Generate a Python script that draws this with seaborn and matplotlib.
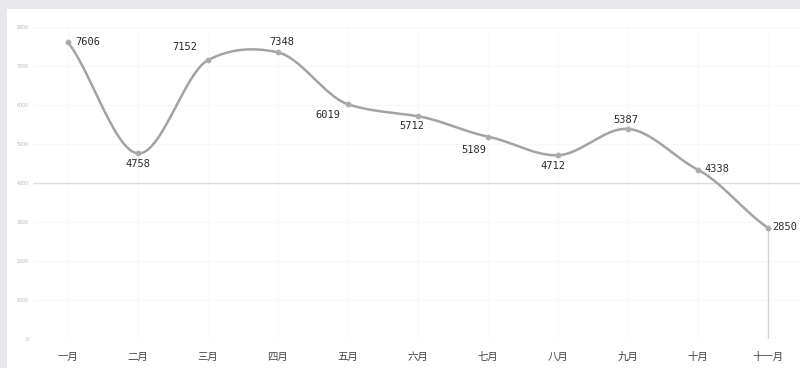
import numpy as np
import pandas as pd
import matplotlib
matplotlib.use("Agg")
import matplotlib.pyplot as plt
import seaborn as sns

months = ["一月", "二月", "三月", "四月", "五月", "六月", "七月", "八月", "九月", "十月", "十一月"]
values = [7606, 4758, 7152, 7348, 6019, 5712, 5189, 4712, 5387, 4338, 2850]
y_ticks = [0, 1000, 2000, 3000, 4000, 5000, 6000, 7000, 8000]
label_offsets = [(7, 0, "left"), (0, -11, "center"), (-23, 13, "center"), (4, 10, "center"),
                 (-20, -11, "center"), (-6, -10, "center"), (-14, -13, "center"), (-5, -11, "center"),
                 (-2, 9, "center"), (6, 1, "left"), (4, 1, "left")]

sns.set_theme(style="white")
plt.rcParams["font.family"] = ["Noto Sans CJK SC", "DejaVu Sans"]

fig = plt.figure(figsize=(8, 3.68), dpi=100)
fig.patch.set_facecolor("#e8e8ec")
# white panel
panel = fig.add_axes([7 / 800, 0, 1 - 7 / 800, (368 - 9) / 368])
panel.set_facecolor("white")
panel.set_xticks([]); panel.set_yticks([])
for s in panel.spines.values():
    s.set_visible(False)

ax = fig.add_axes([33 / 800, (368 - 339) / 368, (800 - 33) / 800, 312 / 368])
ax.set_facecolor("none")

x = np.arange(len(values))
y = np.array(values, dtype=float)

# cardinal-spline smoothing for the line (drawn through the data points)
tension = 0.36
n = len(x)
tang = np.zeros(n)
for i in range(n):
    if 0 < i < n - 1:
        tang[i] = tension * (y[i + 1] - y[i - 1])
    elif i == 0:
        tang[i] = 0.8 * (y[1] - y[0])
    else:
        tang[i] = 0.8 * (y[-1] - y[-2])
fx, fy = [], []
for i in range(n - 1):
    t = np.linspace(0, 1, 30)
    h00 = 2 * t**3 - 3 * t**2 + 1
    h10 = t**3 - 2 * t**2 + t
    h01 = -2 * t**3 + 3 * t**2
    h11 = t**3 - t**2
    seg_y = h00 * y[i] + h10 * tang[i] + h01 * y[i + 1] + h11 * tang[i + 1]
    seg_x = x[i] + t
    if i < n - 2:
        seg_x, seg_y = seg_x[:-1], seg_y[:-1]
    fx.append(seg_x); fy.append(seg_y)
df_line = pd.DataFrame({"x": np.concatenate(fx), "y": np.concatenate(fy)})
df_pts = pd.DataFrame({"x": x, "y": y})

# faint grid
for v in y_ticks:
    ax.axhline(v, color="#f7f7f7", lw=0.8, zorder=0)
for xi in x:
    ax.axvline(xi, color="#f9f9f9", lw=0.8, zorder=0)
ax.axhline(4000, color="#dedede", lw=1.0, zorder=1)
ax.vlines(x[-1], 0, y[-1], color="#d4d4d4", lw=1.0, zorder=1)

sns.lineplot(data=df_line, x="x", y="y", sort=False, estimator=None, ax=ax,
             color="#a3a3a3", lw=1.8, zorder=3)
sns.scatterplot(data=df_pts, x="x", y="y", ax=ax, color="#a8a8a8", s=14,
                edgecolor="#b8b8b8", linewidth=0.5, zorder=4)

for xi, v, (dx, dy, ha) in zip(x, values, label_offsets):
    ax.annotate(str(v), (xi, v), xytext=(dx, dy), textcoords="offset pixels",
                ha=ha, va="center", fontsize=7.5, color="#2a2a2a",
                family=["DejaVu Sans Mono"], zorder=5)

ax.set_xlim(-0.5, -0.5 + 767 / 70)
ax.set_ylim(0, 8000)
ax.set_xticks(x)
ax.set_xticklabels(months, fontsize=7.5, color="#444444")
ax.set_yticks(y_ticks)
ax.set_yticklabels([str(v) for v in y_ticks], fontsize=4, color="#bbbbbb")
ax.tick_params(axis="x", length=0, pad=9)
ax.tick_params(axis="y", length=0, pad=3)
ax.set_xlabel(""); ax.set_ylabel("")
for s in ax.spines.values():
    s.set_visible(False)

fig.savefig("out.png", dpi=100, facecolor=fig.get_facecolor())
